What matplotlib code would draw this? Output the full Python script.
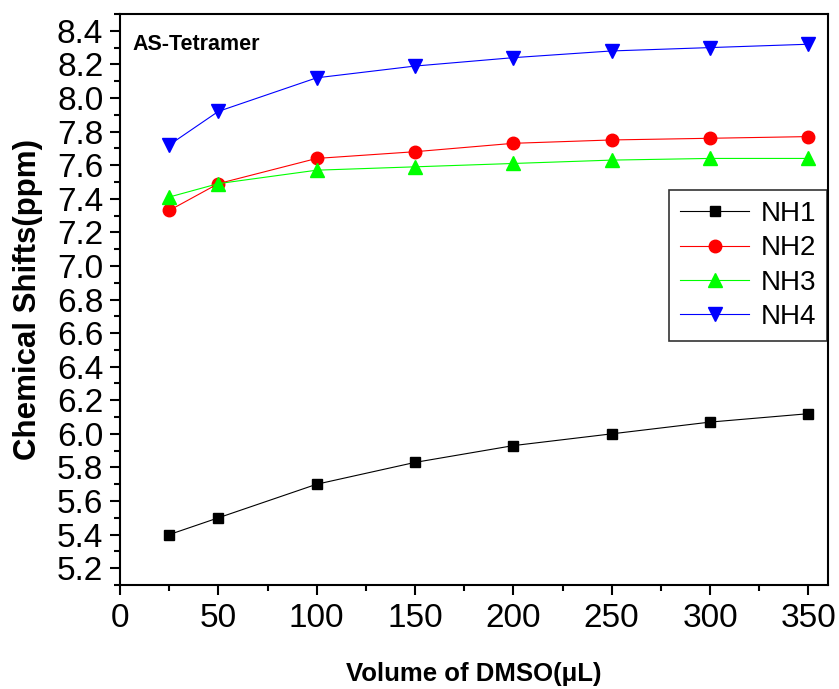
import matplotlib
matplotlib.use('Agg')
from matplotlib import pyplot as plt
from matplotlib.ticker import MultipleLocator, FormatStrFormatter

plt.rcParams['font.family'] = ['Liberation Sans', 'DejaVu Sans']

volume = [25, 50, 100, 150, 200, 250, 300, 350]
nh1 = [5.40, 5.50, 5.70, 5.83, 5.93, 6.00, 6.07, 6.12]
nh2 = [7.33, 7.49, 7.64, 7.68, 7.73, 7.75, 7.76, 7.77]
nh3 = [7.41, 7.49, 7.57, 7.59, 7.61, 7.63, 7.64, 7.64]
nh4 = [7.72, 7.92, 8.12, 8.19, 8.24, 8.28, 8.30, 8.32]

series = [
    ('NH1', nh1, 'black', 's', 7.5),
    ('NH2', nh2, 'red', 'o', 9),
    ('NH3', nh3, '#00ff00', '^', 10),
    ('NH4', nh4, 'blue', 'v', 10),
]

fig = plt.figure(figsize=(8.39, 6.89), dpi=100)
ax = fig.add_axes([120 / 839, 1 - 585 / 689, 708 / 839, 571 / 689])

for name, vals, color, marker, ms in series:
    ax.plot(volume, vals, color=color, marker=marker, markersize=ms,
            linewidth=0.8, label=name)

ax.set_xlim(0, 360)
ax.set_ylim(5.1, 8.5)
ax.xaxis.set_major_locator(MultipleLocator(50))
ax.xaxis.set_minor_locator(MultipleLocator(25))
ax.yaxis.set_major_locator(MultipleLocator(0.2))
ax.yaxis.set_minor_locator(MultipleLocator(0.1))
ax.yaxis.set_major_formatter(FormatStrFormatter('%.1f'))

for sp in ax.spines.values():
    sp.set_linewidth(1.5)
ax.tick_params(which='major', direction='out', length=7, width=1.5,
               labelsize=24, top=False, right=False)
ax.tick_params(axis='y', which='major', pad=5)
ax.tick_params(axis='x', which='major', pad=6)
ax.tick_params(which='minor', direction='out', length=4.3, width=1.5,
               top=False, right=False)

ax.set_xlabel('Volume of DMSO(\u03bcL)', fontsize=18.5, fontweight='bold', labelpad=20)
ax.set_ylabel('Chemical Shifts(ppm)', fontsize=22.5, fontweight='bold', labelpad=10)

ax.text(0.018, 0.946, 'AS-Tetramer', transform=ax.transAxes, fontsize=15.5,
        fontweight='bold', va='center', ha='left')

leg = ax.legend(loc='upper right', bbox_to_anchor=(0.9986, 0.6918), fontsize=20,
                frameon=True, fancybox=False, edgecolor='black',
                handlelength=2.5, borderpad=0.4, labelspacing=0.3,
                handletextpad=0.4, borderaxespad=0.0)
leg.get_frame().set_linewidth(1.2)

fig.savefig('out.png', dpi=100)
